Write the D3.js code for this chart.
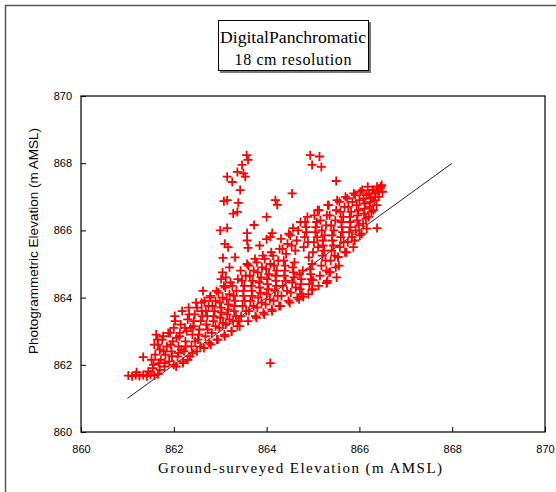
<!DOCTYPE html>
<html>
<head>
<meta charset="utf-8">
<script src="https://cdn.jsdelivr.net/npm/d3@7"></script>
<style>
  body { margin: 0; background: #fff; }
  svg { display: block; }
</style>
</head>
<body>
<div id="chart"></div>
<script>
// tick values and reference line
var xTicks = [860, 862, 864, 866, 868, 870];
var yTicks = [860, 862, 864, 866, 868, 870];
var oneToOne = [[861, 861], [868, 868]];

// ground-surveyed vs photogrammetric elevation
var lowPoints = [
  [861.02,861.68],[861.1,861.66],[861.18,861.7],[861.26,861.67],[861.34,861.7],[861.42,861.66],
  [861.5,861.71],[861.58,861.68],[861.66,861.72],[861.2,861.78],[861.45,861.8],[861.34,862.23],
  [861.56,862.0],[861.6,862.3],[861.58,862.6],[861.62,862.9],[861.7,861.85],[861.72,862.15],
  [861.7,862.45],[861.75,862.75],[861.8,861.95],[861.82,862.3],[861.85,862.55],[861.88,862.95],
  [861.9,862.1],[861.95,862.4],[861.98,862.7],[862.0,863.1],[862.02,863.45],[862.05,861.95],
  [862.08,862.25],[862.1,862.55],[862.12,862.85],[862.15,863.2],[862.18,863.6],[862.2,862.05],
  [862.22,862.4],[862.25,862.7],[862.28,863.0],[862.3,863.35],[862.32,863.7],[862.35,862.25],
  [862.38,862.55],[862.4,862.9],[862.42,863.15],[862.45,863.5],[862.48,863.85],[862.5,862.4],
  [862.52,862.75],[862.55,863.05],[862.58,863.3],[862.6,863.6],[862.63,864.2],
  [861.52,862.15],[861.55,861.9],[861.65,862.75],[861.66,862.6],[861.68,862.05],
  [861.77,862.85],[861.78,862.4],[861.8,862.05],
  [861.92,862.95],[861.93,862.6],[861.96,862.25],[862.0,862.0],
  [862.03,863.3],[862.06,862.8],[862.1,862.35],
  [862.13,862.95],[862.16,862.45],[862.2,862.1],
  [862.24,863.1],[862.26,862.55],[862.3,862.15],
  [862.33,863.5],[862.36,863.1],[862.4,862.35],
  [862.43,863.3],[862.46,862.7],[862.5,863.7],[862.54,862.9],[862.57,862.55],
  [862.6,863.85],[862.62,863.45]
];
var midPoints = [
  [862.65,862.5],[862.68,862.85],[862.7,863.2],[862.72,863.45],[862.75,863.75],[862.78,864.0],
  [862.8,862.6],[862.82,862.95],[862.85,863.3],[862.88,863.6],[862.9,863.9],[862.92,864.2],
  [862.95,862.75],[862.98,863.1],[863.0,863.4],[863.02,863.7],[863.05,864.0],[863.08,864.35],
  [863.1,862.85],[863.12,863.2],[863.15,863.5],[863.18,863.8],[863.2,864.1],[863.22,864.45],
  [863.25,863.0],[863.28,863.3],[863.3,863.6],[863.32,863.9],[863.35,864.2],[863.38,864.55],
  [863.05,864.75],[863.2,864.9],
  [862.66,863.9],[862.69,863.6],[862.73,863.05],[862.76,862.65],
  [862.79,864.05],[862.83,863.75],[862.86,863.45],[862.9,863.15],[862.93,862.75],
  [862.96,864.15],[862.99,863.85],[863.03,863.55],[863.06,863.25],[863.09,862.9],
  [863.11,864.3],[863.14,863.95],[863.17,863.65],[863.2,863.35],[863.24,863.0],
  [863.26,864.35],[863.29,864.05],[863.31,863.75],[863.34,863.45],[863.37,863.15],
  [863.4,863.3],[863.02,864.55],[863.12,864.6],
  [863.42,863.15],[863.45,863.45],[863.48,863.75],[863.5,864.05],[863.52,864.35],[863.55,864.65],
  [863.58,865.0],[863.6,863.3],[863.62,863.6],[863.65,863.9],[863.68,864.2],[863.7,864.5],
  [863.72,864.8],[863.75,865.15],[863.78,863.4],[863.8,863.7],[863.82,864.0],[863.85,864.3],
  [863.88,864.6],[863.9,864.9],[863.92,865.25],[863.95,863.5],[863.98,863.8],[864.0,864.1],
  [864.02,864.4],[864.05,864.7],[864.08,865.0],[864.1,865.35],[864.12,863.6],[864.15,863.9],
  [864.18,864.2],[864.2,864.5],[864.22,864.8],[864.25,865.1],[864.28,865.45],[863.85,865.55],
  [863.44,864.8],[863.47,864.5],[863.5,864.2],[863.53,863.9],[863.56,863.6],
  [863.61,864.95],[863.64,864.65],[863.67,864.35],[863.69,864.05],[863.72,863.75],[863.76,863.45],
  [863.79,865.05],[863.81,864.75],[863.84,864.45],[863.87,864.15],[863.89,863.85],[863.93,863.55],
  [863.96,865.15],[863.99,864.85],[864.01,864.55],[864.04,864.25],[864.07,863.95],[864.11,863.65],
  [864.14,865.25],[864.16,864.95],[864.19,864.65],[864.21,864.35],[864.24,864.05],[864.27,863.75]
];
var highPoints = [
  [864.3,863.75],[864.32,864.05],[864.35,864.35],[864.38,864.65],[864.4,864.95],[864.42,865.3],
  [864.45,865.6],[864.48,865.9],[864.5,863.85],[864.52,864.15],[864.55,864.45],[864.58,864.75],
  [864.6,865.05],[864.62,865.4],[864.65,865.7],[864.68,866.0],[864.7,863.95],[864.72,864.25],
  [864.75,864.55],[864.78,864.8],[864.8,865.5],[864.82,865.8],[864.85,866.1],[864.88,866.4],
  [864.9,864.1],[864.92,864.4],[864.95,864.7],[864.98,865.0],[865.0,865.35],[865.02,865.65],
  [865.05,865.95],[865.08,866.25],[865.1,866.6],
  [864.31,865.75],[864.34,865.45],[864.37,865.1],[864.39,864.8],[864.41,864.5],[864.44,864.2],[864.47,863.9],
  [864.51,865.85],[864.54,865.55],[864.56,864.9],[864.59,864.6],[864.63,864.3],[864.66,864.0],
  [864.71,864.7],[864.74,864.4],[864.76,864.1],[864.83,866.25],[864.86,865.95],[864.89,865.65],
  [864.91,865.2],[864.94,864.85],[864.96,864.55],[864.99,864.25],
  [865.03,866.45],[865.06,866.1],[865.09,865.8],[865.11,865.5],
  [865.12,864.35],[865.15,864.65],[865.18,864.95],[865.2,865.25],[865.22,865.55],[865.25,865.85],
  [865.28,866.15],[865.3,866.45],[865.32,866.75],[865.3,864.45],[865.35,864.75],[865.38,865.1],
  [865.4,865.4],[865.42,865.7],[865.45,866.0],[865.48,866.3],[865.5,866.6],[865.52,866.9],
  [865.54,865.2],[865.56,864.95],[865.58,865.5],[865.6,865.8],[865.62,866.1],[865.65,866.4],
  [865.68,866.7],[865.7,867.0],[865.72,865.35],[865.75,865.65],[865.78,865.95],[865.8,866.25],
  [865.82,866.55],[865.85,866.85],[865.88,867.1],
  [865.13,866.6],[865.16,866.3],[865.19,866.0],[865.21,865.7],[865.24,865.4],[865.27,865.1],[865.29,864.8],[865.31,864.5],
  [865.34,866.75],[865.36,866.45],[865.39,866.15],[865.41,865.85],[865.44,865.55],[865.47,865.25],[865.49,864.9],[865.51,864.6],
  [865.57,866.85],[865.59,866.55],[865.61,866.25],[865.64,865.95],[865.66,865.65],[865.69,865.35],
  [865.74,866.95],[865.76,866.7],[865.79,866.4],[865.81,866.1],[865.84,865.8],[865.87,865.5],
  [865.9,865.7],[865.92,866.0],[865.95,866.3],[865.98,866.6],[866.0,866.9],[866.02,867.15],
  [866.05,865.9],[866.08,866.2],[866.1,866.5],[866.12,866.8],[866.15,867.05],[866.18,867.3],
  [866.2,866.4],[866.22,866.7],[866.25,866.95],[866.28,867.2],[866.3,866.6],[866.32,866.9],
  [866.35,867.1],[866.38,867.3],[866.42,867.0],[866.45,867.25],[866.5,867.15],[866.48,867.35],
  [865.91,867.05],[865.94,866.75],[865.96,866.45],[865.99,866.15],[866.01,865.85],
  [866.06,867.2],[866.09,866.95],[866.11,866.65],[866.14,866.35],[866.16,866.05],
  [866.21,867.1],[866.24,866.85],[866.26,866.55],
  [866.31,867.2],[866.34,867.0],[866.37,866.75],[866.41,867.15],[866.46,867.3],
  [865.54,865.21],[865.37,864.76],[865.29,864.43],[865.0,864.52],[864.98,864.23],[864.79,864.02]
];
var outlierPoints = [
  [863.57,868.24],[863.6,868.1],[863.47,867.95],[863.5,867.7],[863.37,867.74],[863.54,867.6],
  [863.15,867.6],[863.26,867.44],[863.43,867.2],[863.15,866.9],[863.08,866.87],[863.39,866.82],
  [863.37,866.55],[863.28,866.5],[863.0,866.0],[863.15,866.07],[863.1,865.6],[863.17,865.5],
  [863.06,865.18],[863.32,865.2],[863.58,865.92],[863.58,865.7],[863.6,865.48],[863.73,866.16],
  [864.0,866.4],[864.12,865.92],[864.19,866.9],[864.23,866.76],[864.55,867.1],[864.94,868.24],
  [865.14,868.2],[864.98,867.95],[865.18,867.89],[865.5,867.47],[864.73,866.25],[864.57,866.07],
  [864.08,865.8],[864.0,865.74],[866.38,866.07],[864.08,862.05]
];

var points = lowPoints.concat(midPoints, highPoints, outlierPoints);

var W = 556, H = 492;
var svg = d3.select("#chart").append("svg")
  .attr("width", W)
  .attr("height", H);

// outer frame (left and top edges visible)
svg.append("path")
  .attr("d", "M5.5,492 L5.5,5.5 L556,5.5")
  .attr("fill", "none")
  .attr("stroke", "#555")
  .attr("stroke-width", 1.5);

var x = d3.scaleLinear().domain([860, 870]).range([81, 545]);
var y = d3.scaleLinear().domain([860, 870]).range([432, 96]);

// plot frame
svg.append("rect")
  .attr("x", x(860)).attr("y", y(870))
  .attr("width", x(870) - x(860))
  .attr("height", y(860) - y(870))
  .attr("fill", "none")
  .attr("stroke", "#000")
  .attr("stroke-width", 1.2);

// X axis
var xAxis = svg.append("g")
  .attr("transform", "translate(0," + y(860) + ")")
  .call(d3.axisBottom(x).tickValues(xTicks).tickSizeInner(-5).tickSizeOuter(0).tickPadding(13).tickFormat(d3.format("d")));
xAxis.select(".domain").remove();
xAxis.selectAll("line").attr("stroke", "#000");
xAxis.selectAll("text")
  .attr("font-family", "Liberation Sans, Arial, sans-serif")
  .attr("font-size", 11)
  .attr("fill", "#000");

// Y axis
var yAxis = svg.append("g")
  .attr("transform", "translate(" + x(860) + ",0)")
  .call(d3.axisLeft(y).tickValues(yTicks).tickSizeInner(-5).tickSizeOuter(0).tickPadding(9).tickFormat(d3.format("d")));
yAxis.select(".domain").remove();
yAxis.selectAll("line").attr("stroke", "#000");
yAxis.selectAll("text")
  .attr("font-family", "Liberation Sans, Arial, sans-serif")
  .attr("font-size", 11)
  .attr("fill", "#000");

// 1:1 line
svg.append("line")
  .attr("x1", x(oneToOne[0][0])).attr("y1", y(oneToOne[0][1]))
  .attr("x2", x(oneToOne[1][0])).attr("y2", y(oneToOne[1][1]))
  .attr("stroke", "#222")
  .attr("stroke-width", 1);

// plus markers
var arm = 4.5;
svg.append("g").selectAll("path")
  .data(points)
  .enter()
  .append("path")
  .attr("d", function(d) {
    var px = x(d[0]), py = y(d[1]);
    return "M" + (px - arm) + "," + py + "H" + (px + arm) +
           "M" + px + "," + (py - arm) + "V" + (py + arm);
  })
  .attr("stroke", "#ff0000")
  .attr("stroke-width", 1.8)
  .attr("fill", "none");

// axis titles
svg.append("text")
  .attr("x", 300).attr("y", 473)
  .attr("text-anchor", "middle")
  .attr("font-family", "Liberation Serif, Times New Roman, serif")
  .attr("font-size", 15)
  .attr("textLength", 284)
  .attr("lengthAdjust", "spacing")
  .text("Ground-surveyed Elevation (m AMSL)");

svg.append("text")
  .attr("transform", "translate(38,241) rotate(-90)")
  .attr("text-anchor", "middle")
  .attr("font-family", "Liberation Sans, Arial, sans-serif")
  .attr("font-size", 13.5)
  .text("Photogrammetric Elevation (m AMSL)");

// title box
svg.append("rect")
  .attr("x", 220).attr("y", 22).attr("width", 151).attr("height", 51)
  .attr("fill", "#777");
svg.append("rect")
  .attr("x", 218.5).attr("y", 20.5).attr("width", 150).attr("height", 50)
  .attr("fill", "#fff")
  .attr("stroke", "#000")
  .attr("stroke-width", 1);

svg.append("text")
  .attr("x", 293).attr("y", 43)
  .attr("text-anchor", "middle")
  .attr("font-family", "Liberation Serif, Times New Roman, serif")
  .attr("font-size", 16)
  .attr("textLength", 146)
  .attr("lengthAdjust", "spacingAndGlyphs")
  .text("DigitalPanchromatic");
svg.append("text")
  .attr("x", 293).attr("y", 65)
  .attr("text-anchor", "middle")
  .attr("font-family", "Liberation Serif, Times New Roman, serif")
  .attr("font-size", 16)
  .attr("textLength", 117)
  .attr("lengthAdjust", "spacing")
  .text("18 cm resolution");
</script>
</body>
</html>
